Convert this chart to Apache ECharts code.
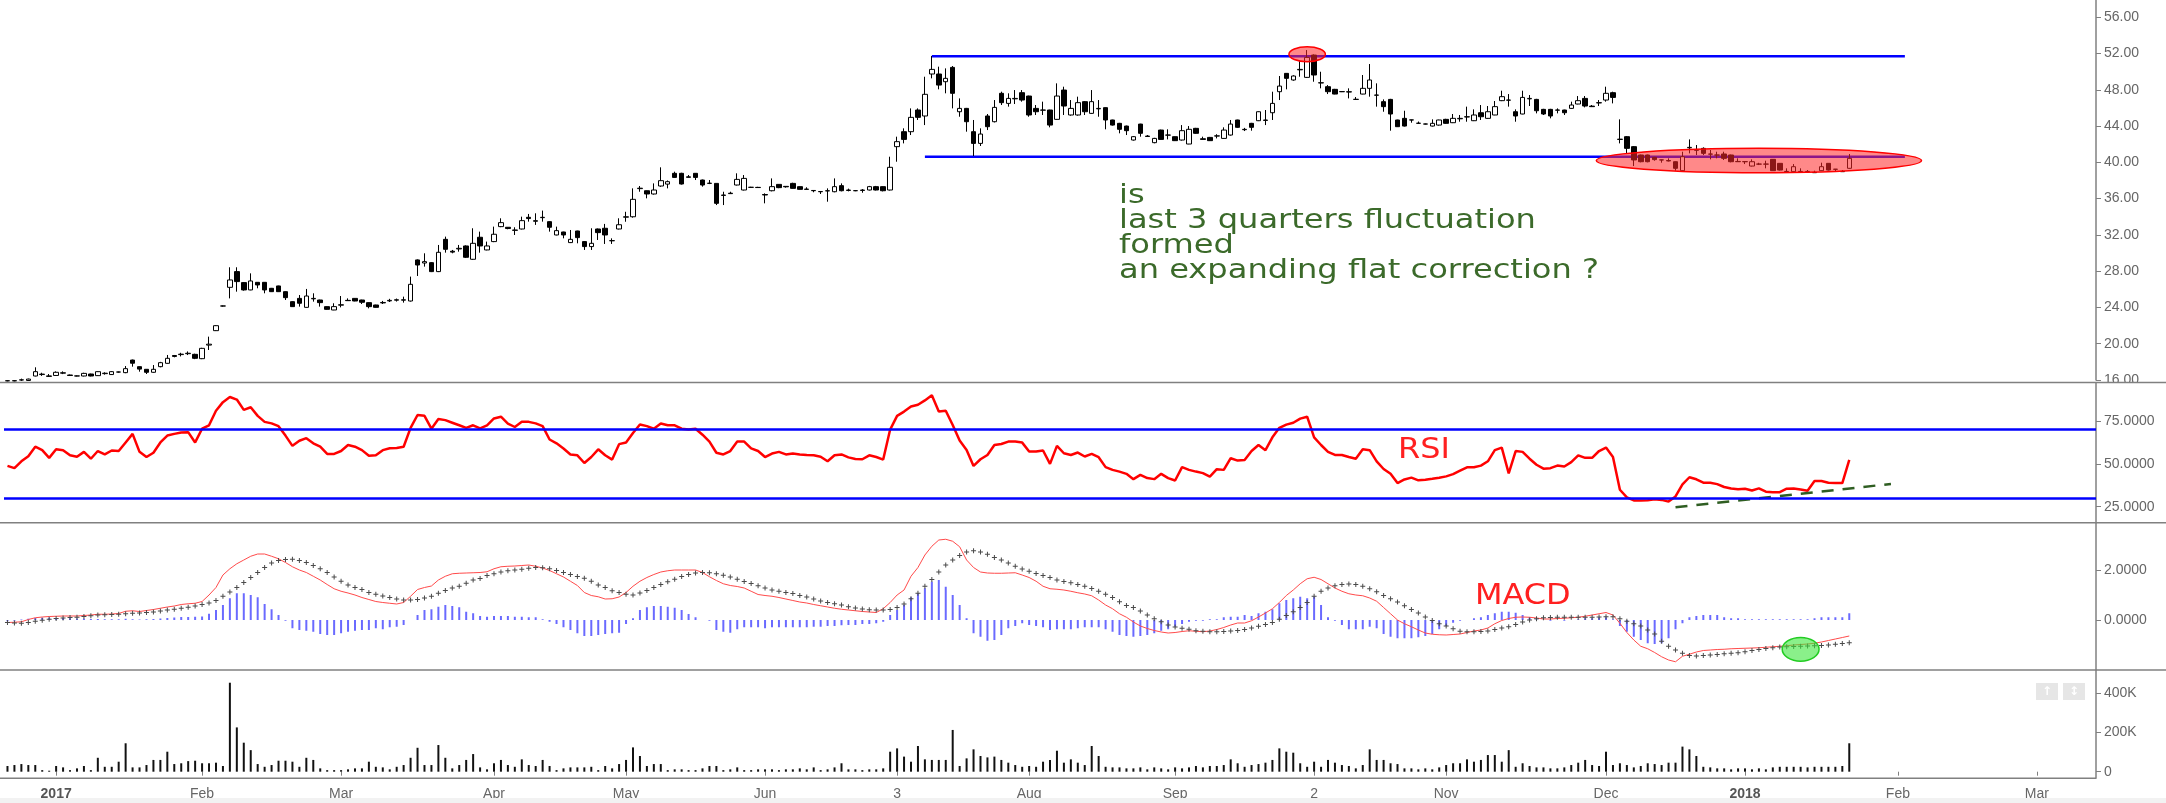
<!DOCTYPE html>
<html><head><meta charset="utf-8">
<script src="https://cdn.jsdelivr.net/npm/echarts@6/dist/echarts.min.js"></script>
<style>html,body{margin:0;padding:0;background:#fff;}#c{width:2166px;height:803px;}</style>
</head><body><div id="c"></div>
<script>
// ---------- DATA ----------
// daily candles: [open, close, low, high]
const ohlc = [
[15.9,15.92,15.85,15.97],[15.92,15.9,15.85,15.97],[16.0,16.02,15.9,16.15],[15.95,16.1,15.9,16.15],[16.44,16.92,16.4,17.4],
[16.6,16.65,16.45,16.8],[16.45,16.4,16.35,16.66],[16.5,16.85,16.45,16.95],[16.75,16.8,16.65,16.95],[16.55,16.5,16.45,16.6],
[16.45,16.44,16.4,16.5],[16.44,16.73,16.4,16.8],[16.66,16.44,16.4,16.7],[16.48,16.92,16.45,16.95],[16.7,16.75,16.59,16.85],
[16.6,16.92,16.55,16.98],[16.88,16.88,16.82,16.92],[16.81,17.25,16.75,17.54],[18.2,17.85,17.47,18.25],[17.47,17.2,16.92,17.5],
[17.18,16.85,16.66,17.2],[16.85,17.18,16.8,17.65],[17.47,17.91,17.4,18.0],[17.84,18.39,17.8,18.76],[18.7,18.6,18.5,18.76],
[18.8,18.85,18.6,19.0],[18.9,18.95,18.75,19.15],[18.83,18.39,18.3,18.9],[18.35,19.49,18.3,19.55],[19.85,19.95,19.31,20.78],
[21.44,21.99,21.4,22.05],[24.16,24.16,24.1,24.2],[26.22,27.03,25.0,28.43],[27.95,26.85,25.74,28.43],[26.74,25.93,25.85,26.8],
[25.93,26.92,25.9,27.76],[26.77,26.48,26.11,26.8],[26.77,25.93,25.56,26.8],[26.11,25.74,25.7,26.15],[26.37,25.74,25.7,26.4],
[25.74,25.08,24.82,25.78],[24.64,24.09,24.05,24.68],[25.0,24.46,24.09,25.37],[24.01,25.26,23.98,26.04],[24.95,25.0,24.64,25.56],
[24.82,24.53,24.09,24.85],[24.09,23.79,23.75,24.12],[23.72,24.09,23.7,24.46],[24.25,24.3,24.01,25.26],[24.78,24.75,24.72,25.0],
[25.0,24.71,24.68,25.03],[24.82,24.57,24.38,24.85],[24.53,24.09,23.9,24.56],[24.27,24.01,23.98,24.3],[24.5,24.55,24.38,24.72],
[24.72,24.78,24.6,24.95],[24.8,24.85,24.65,24.98],[24.8,24.85,24.53,25.19],[24.71,26.55,24.65,27.4],[29.24,28.68,27.47,29.3],
[28.9,29.05,28.5,29.97],[28.94,27.95,27.9,29.0],[27.95,30.08,27.9,30.89],[31.51,30.41,30.04,31.81],[30.2,30.1,29.97,30.34],
[30.45,30.52,30.15,30.89],[30.78,29.53,29.45,30.85],[29.31,31.07,29.25,32.73],[31.74,30.78,30.04,32.36],[30.34,30.78,30.3,31.26],
[31.26,32.07,31.2,32.91],[32.91,33.35,32.85,33.83],[32.84,32.7,32.62,32.86],[32.5,32.54,31.99,32.84],[32.65,33.57,32.6,34.01],
[33.94,33.8,33.46,34.31],[33.5,33.57,33.1,34.38],[33.9,33.94,33.46,34.68],[33.46,32.84,32.36,33.5],[31.99,32.47,31.95,32.91],
[32.32,31.99,31.62,32.35],[31.15,31.51,31.1,32.54],[32.43,31.7,31.07,32.46],[31.26,30.71,30.34,31.3],[30.71,31.07,30.34,32.73],
[32.65,32.25,31.44,32.7],[32.73,31.99,31.0,33.21],[31.35,31.37,31.0,31.62],[32.65,33.12,32.6,33.83],[33.95,34.0,33.45,34.55],
[34.0,35.92,33.9,37.13],[37.1,37.15,36.76,37.39],[36.87,36.51,36.03,36.9],[36.51,36.95,36.45,37.68],[37.39,37.98,37.3,39.45],
[37.6,37.87,37.13,38.0],[38.79,38.34,38.3,38.97],[38.79,37.61,37.55,38.85],[38.4,38.35,38.34,38.6],[38.79,38.34,38.05,38.82],
[38.05,37.5,37.32,38.1],[37.7,37.68,37.6,38.05],[37.68,35.48,35.29,37.7],[36.35,36.4,35.29,36.76],[36.6,36.55,36.51,36.76],
[37.5,38.12,37.45,38.79],[36.95,38.23,36.9,38.6],[37.25,37.24,37.2,37.3],[37.24,37.22,37.18,37.3],[36.45,36.4,35.48,36.58],
[36.87,37.32,36.8,38.23],[37.57,37.21,37.15,37.6],[37.35,37.3,37.21,37.39],[37.68,37.13,37.1,37.75],[37.32,37.02,37.0,37.35],
[37.05,37.02,37.0,37.25],[36.9,36.87,36.7,36.92],[36.78,36.76,36.51,36.8],[36.85,36.87,35.66,37.13],[36.76,37.32,36.7,38.23],
[37.43,36.87,36.8,37.68],[36.9,36.95,36.8,37.1],[36.88,36.87,36.82,36.92],[36.9,36.95,36.65,37.05],[36.95,37.32,36.9,37.4],
[37.32,36.95,36.9,37.4],[37.32,36.87,36.8,37.35],[36.95,39.45,36.9,40.62],[41.73,42.28,40.07,42.83],[43.38,42.53,42.09,43.75],
[43.38,44.96,43.01,45.95],[45.77,44.96,44.67,45.95],[45.11,47.5,44.11,49.44],[49.74,50.25,49.26,51.72],[49.74,48.52,48.05,50.55],
[48.89,49.26,47.61,50.36],[50.47,47.61,45.95,50.62],[45.58,45.95,45.03,47.05],[45.95,44.48,43.38,46.0],[43.38,42.09,40.7,44.67],
[42.09,43.12,41.8,43.75],[45.11,43.93,43.56,45.33],[44.48,46.06,44.4,46.87],[47.61,46.58,46.32,47.79],[46.5,47.05,46.14,47.61],
[47.0,47.05,46.43,47.97],[47.68,46.87,46.69,47.97],[47.31,45.22,45.03,47.35],[45.95,45.58,45.22,46.32],[45.75,45.77,45.22,46.69],
[45.77,44.11,43.86,45.8],[44.74,47.31,44.7,48.71],[47.97,46.21,45.22,48.34],[45.22,45.95,45.15,46.87],[45.22,46.58,45.15,47.24],
[46.69,45.58,45.22,46.75],[45.4,46.69,45.35,47.97],[45.9,45.95,45.03,46.87],[46.03,44.67,43.64,46.06],[44.67,44.11,44.05,44.7],
[44.3,43.64,43.2,44.35],[44.0,43.49,43.01,44.05],[42.46,42.83,42.4,42.9],[44.22,43.2,42.83,44.25],[42.9,42.85,42.83,43.01],
[42.17,42.64,42.1,42.7],[43.56,42.53,42.5,43.6],[43.0,43.01,42.53,43.64],[42.83,42.39,42.35,42.85],[42.46,43.49,42.4,44.11],
[42.02,43.64,42.0,44.0],[43.75,43.2,43.15,43.8],[42.6,42.53,42.5,42.83],[42.75,42.39,42.35,42.8],[42.9,42.92,42.64,43.1],
[42.64,43.56,42.6,43.86],[43.01,44.22,42.95,44.67],[44.67,43.86,43.8,44.7],[43.6,43.64,43.45,43.8],[44.3,43.86,43.49,44.35],
[44.59,45.58,44.55,45.62],[44.62,44.67,44.11,45.77],[45.47,46.5,44.67,47.79],[47.79,48.41,46.87,49.52],[49.81,49.26,48.05,49.85],
[49.08,49.52,49.0,49.6],[50.2,50.25,49.44,51.28],[49.37,51.57,49.3,52.38],[51.83,49.63,48.89,51.9],[48.75,48.78,48.16,49.99],
[48.34,47.79,47.53,48.52],[48.05,47.53,47.5,48.1],[47.8,47.79,47.75,47.85],[47.75,47.79,47.05,48.16],[46.95,46.94,46.9,47.2],
[47.53,48.16,47.5,49.63],[48.16,49.08,47.24,50.84],[47.4,47.42,46.14,48.71],[46.69,46.14,45.58,46.94],[46.94,45.33,43.49,47.0],
[44.67,43.93,43.9,44.7],[44.85,44.0,43.95,45.69],[44.68,44.67,44.37,44.7],[44.32,44.3,44.28,44.5],[44.23,44.22,44.18,44.27],
[44.0,44.3,43.95,44.74],[44.11,44.67,44.05,44.7],[44.74,44.3,44.25,44.8],[44.37,44.85,44.33,45.33],[44.8,44.85,44.48,45.22],
[45.0,45.03,44.48,46.14],[44.59,45.22,44.55,45.84],[45.47,45.03,44.67,46.32],[44.85,45.58,44.8,46.21],[45.22,46.14,45.2,46.76],
[46.8,47.24,46.75,47.9],[46.85,46.87,46.14,47.53],[45.58,45.11,44.48,45.84],[45.33,47.16,45.3,47.9],[47.0,47.05,46.21,47.42],
[46.94,45.69,45.4,47.0],[45.84,45.33,45.22,45.9],[45.84,45.11,44.85,45.9],[45.75,45.77,45.4,45.95],[45.77,45.47,45.22,45.8],
[45.95,46.32,45.9,46.69],[46.43,46.8,46.4,47.31],[47.05,46.21,46.06,47.31],[46.2,46.14,46.1,46.32],[46.55,46.58,46.21,46.87],
[46.87,47.61,46.69,48.34],[47.68,47.16,46.5,47.79],[42.55,42.53,42.09,44.74],[42.83,41.54,40.99,42.9],[41.73,40.26,39.59,41.8],
[40.81,40.07,40.0,40.85],[40.81,40.07,40.0,40.85],[40.55,40.3,40.18,40.6],[40.27,40.26,39.96,40.3],[40.2,40.15,40.1,40.44],
[40.07,39.34,39.08,40.1],[39.08,40.62,39.0,41.17],[41.6,41.65,40.99,42.53],[41.33,41.36,40.81,41.91],[41.54,40.99,40.81,41.65],
[40.9,40.92,40.33,41.36],[40.8,40.81,40.44,41.17],[40.92,40.44,40.26,41.17],[40.81,40.07,40.0,40.85],[40.1,40.07,40.05,40.44],
[40.08,40.07,39.81,40.1],[39.59,40.07,39.55,40.33],[39.8,39.81,39.7,39.95],[39.8,39.81,39.34,40.18],[40.33,39.08,39.05,40.36],
[39.89,39.15,39.1,39.92],[39.0,38.97,38.95,39.34],[38.97,39.52,38.95,39.81],[39.0,38.97,38.95,39.34],[39.0,38.97,38.95,39.15],
[38.9,38.86,38.84,39.08],[39.08,39.52,39.05,39.96],[39.89,39.15,39.1,39.92],[39.25,39.23,38.97,39.26],[39.0,38.97,38.95,39.15],
[39.34,40.44,39.3,40.92]
];
// volume in thousands
const volumeK = [
29,34,39,34,34,8,5,29,22,8, 17,29,8,71,25,25,51,145,22,22, 34,60,60,102,39,43,54,56,43,43,
46,29,454,226,148,110,39,25,34,56, 56,51,25,71,60,17,8,8,8,12, 17,17,51,25,22,12,25,34,71,122,
34,34,136,71,17,34,60,90,22,12, 43,60,34,25,63,34,29,60,29,8, 17,22,22,22,25,8,29,17,39,
60,124,80,29,39,39,8,12,12,8, 8,17,29,29,8,12,22,8,8,12, 12,12,8,12,12,17,12,22,8,12,
22,43,12,12,8,12,12,17,102,119, 77,51,131,63,60,60,60,213,29,68, 114,80,73,77,60,46,34,25,29,25,
51,60,107,46,63,46,34,131,80,25, 22,22,17,17,22,12,22,17,12,22, 17,22,29,22,29,29,34,63,43,
25,34,39,46,60,119,102,97,43,25, 51,25,60,46,34,29,17,34,114,60, 60,43,39,17,17,12,17,12,22,34,
43,43,63,51,60,85,85,51,110,25, 43,29,22,22,17,17,22,34,46,60, 34,29,102,34,43,34,22,29,43,39,
34,46,46,128,114,80,25,22,17,17, 12,17,17,12,17,12,22,25,25,25, 25,22,25,25,25,25,29,145
];
const rsi = [
48.8,47.5,51.5,54.5,60.0,58.0,53.5,58.5,58.0,55.0, 54.2,57.0,53.0,57.5,55.5,57.8,57.5,62.5,67.5,57.0,
54.0,56.5,62.5,66.5,67.5,68.3,68.5,62.5,70.5,72.5, 81.0,86.0,89.0,87.5,81.5,83.0,78.0,74.5,73.6,72.0,
66.5,60.5,63.5,65.0,62.0,60.0,55.8,55.8,57.5,61.0, 60.0,58.0,54.7,55.0,58.0,59.1,59.3,60.0,71.0,78.5,
78.0,70.5,76.2,75.5,74.0,72.5,71.0,72.5,70.7,72.5, 76.5,77.5,73.5,71.5,74.5,74.5,73.6,72.0,64.2,62.0,
59.0,55.5,55.0,50.5,54.0,58.5,55.0,52.5,61.5,
62.5,68.0,73.0,72.0,70.5,73.5,72.5,72.5,70.5,70.0, 70.5,67.0,63.0,56.5,55.5,57.5,63.0,63.0,59.0,57.5,
54.0,56.0,57.0,55.5,56.0,55.5,55.2,55.0,54.2,51.5, 55.0,55.5,53.8,52.8,52.7,55.0,54.0,52.5,70.0,78.0,
80.5,83.5,84.5,87.0,90.0,80.5,81.0,72.7,63.6,58.1, 48.8,52.7,55.2,61.0,61.6,63.0,63.0,62.4,57.2,57.2,
57.8,50.0,60.5,56.2,55.2,56.6,54.3,55.8,53.9,48.1, 46.5,45.5,44.2,41.1,43.6,41.7,41.1,44.2,41.7,40.3,
48.1,46.5,45.5,44.6,42.6,46.9,46.5,53.3,51.9,
52.3,57.5,61.0,58.0,65.5,71.0,72.9,74.0,76.4,77.5, 65.5,61.0,57.0,55.2,55.2,54.0,53.0,58.5,58.0,51.5,
47.0,44.2,38.8,40.9,42.0,40.4,40.8,41.3,41.9,42.7, 44.0,46.0,48.0,48.0,49.0,51.5,58.0,59.5,44.5,57.5,
57.0,53.0,49.5,47.2,47.5,49.0,48.5,51.0,55.0,53.5, 53.5,57.5,59.5,54.0,34.9,30.5,28.7,28.6,28.8,29.3,
29.0,28.0,31.0,38.0,42.2,41.0,39.0,39.0,38.2,36.5, 35.6,35.2,35.5,34.5,35.7,33.8,33.5,33.5,35.5,35.6,
35.0,34.3,40.0,40.0,39.0,38.8,38.8,52.3
];
const macd = [
-0.10,-0.09,-0.07,0.02,0.09,0.12,0.14,0.15,0.16,0.16, 0.16,0.18,0.20,0.23,0.23,0.24,0.26,0.35,0.37,0.34,
0.38,0.42,0.47,0.52,0.56,0.62,0.65,0.67,0.74,1.0, 1.3,1.8,2.05,2.25,2.4,2.55,2.64,2.64,2.55,2.45,
2.3,2.13,2.0,1.9,1.75,1.6,1.42,1.25,1.15,1.08, 1.0,0.9,0.82,0.74,0.7,0.67,0.64,0.7,0.95,1.22,
1.3,1.36,1.6,1.75,1.85,1.87,1.88,1.89,1.9,1.93, 2.05,2.13,2.15,2.16,2.18,2.2,2.15,2.08,1.98,1.85,
1.72,1.55,1.38,1.1,0.98,0.93,0.84,0.85,0.92,
1.1,1.35,1.55,1.7,1.82,1.92,1.97,2.0,2.0,2.0, 2.0,1.9,1.73,1.58,1.45,1.38,1.34,1.28,1.15,1.02,
0.98,0.95,0.9,0.84,0.78,0.72,0.68,0.62,0.57,0.52, 0.47,0.43,0.4,0.37,0.34,0.32,0.3,0.45,0.7,1.0,
1.2,1.75,2.1,2.6,2.95,3.2,3.23,3.15,2.93,2.4, 2.1,1.92,1.88,1.87,1.87,1.88,1.89,1.8,1.7,1.55,
1.35,1.25,1.23,1.2,1.15,1.09,1.04,0.97,0.8,0.6, 0.45,0.25,0.11,-0.08,-0.24,-0.34,-0.42,-0.48,-0.52,-0.5,
-0.46,-0.43,-0.45,-0.47,-0.44,-0.38,-0.3,-0.2,-0.12,
-0.12,-0.03,0.12,0.28,0.45,0.7,0.98,1.2,1.45,1.65, 1.71,1.62,1.45,1.28,1.15,1.05,1.0,0.97,0.88,0.75,
0.5,0.25,0.0,-0.15,-0.27,-0.4,-0.52,-0.57,-0.59,-0.6, -0.58,-0.56,-0.5,-0.44,-0.4,-0.32,-0.15,-0.02,0.06,0.11,
0.12,0.11,0.08,0.04,0.04,0.06,0.07,0.09,0.11,0.15, 0.2,0.25,0.3,0.2,-0.13,-0.5,-0.8,-1.05,-1.15,-1.3,
-1.47,-1.6,-1.67,-1.45,-1.37,-1.28,-1.22,-1.2,-1.18,-1.17, -1.15,-1.14,-1.13,-1.12,-1.11,-1.09,-1.07,-1.05,-1.03,-1.0,
-0.98,-0.96,-0.93,-0.88,-0.82,-0.76,-0.7,-0.64
];
const signal = [
-0.10,-0.12,-0.13,-0.10,-0.05,-0.01,0.03,0.06,0.08,0.10, 0.11,0.14,0.17,0.20,0.21,0.22,0.23,0.25,0.27,0.28,
0.30,0.32,0.36,0.40,0.43,0.47,0.51,0.56,0.62,0.68, 0.78,0.95,1.12,1.3,1.5,1.7,1.9,2.1,2.28,2.38,
2.42,2.43,2.38,2.3,2.18,2.05,1.9,1.72,1.55,1.4, 1.3,1.22,1.1,1.03,0.96,0.9,0.84,0.8,0.8,0.82,
0.88,0.95,1.07,1.18,1.28,1.35,1.47,1.6,1.66,1.78, 1.85,1.92,1.97,2.0,2.03,2.07,2.1,2.09,2.05,1.98,
1.9,1.82,1.74,1.67,1.55,1.4,1.3,1.17,1.1,
1.03,1.0,1.08,1.18,1.3,1.42,1.53,1.63,1.74,1.82, 1.88,1.9,1.89,1.85,1.79,1.72,1.63,1.54,1.46,1.37,
1.28,1.2,1.15,1.1,1.06,0.98,0.92,0.84,0.76,0.7, 0.65,0.6,0.53,0.48,0.44,0.41,0.4,0.4,0.42,0.5,
0.64,0.85,1.07,1.35,1.62,1.92,2.2,2.4,2.58,2.72, 2.77,2.72,2.63,2.5,2.4,2.28,2.15,2.04,1.95,1.86,
1.78,1.7,1.6,1.54,1.49,1.42,1.35,1.26,1.15,1.03, 0.9,0.73,0.58,0.5,0.36,0.2,0.05,-0.07,-0.2,-0.28,
-0.33,-0.37,-0.43,-0.45,-0.47,-0.47,-0.46,-0.44,-0.42,
-0.38,-0.32,-0.25,-0.18,-0.1,0.03,0.18,0.33,0.5,0.7, 0.95,1.15,1.28,1.37,1.42,1.44,1.42,1.35,1.25,1.13,
0.98,0.85,0.72,0.57,0.42,0.28,0.12,-0.02,-0.15,-0.24, -0.35,-0.45,-0.47,-0.47,-0.46,-0.44,-0.38,-0.32,-0.27,-0.18,
-0.08,0.0,0.05,0.09,0.1,0.11,0.11,0.11,0.11,0.11, 0.11,0.12,0.13,0.13,0.05,-0.05,-0.15,-0.24,-0.4,-0.56,
-0.85,-1.05,-1.2,-1.33,-1.42,-1.44,-1.42,-1.4,-1.38,-1.35, -1.33,-1.31,-1.27,-1.22,-1.18,-1.14,-1.11,-1.08,-1.07,-1.06,
-1.05,-1.04,-1.03,-1.02,-1.0,-0.97,-0.94,-0.91
];
const hist = [
-0.05,-0.03,0.02,0.05,0.08,0.09,0.09,0.08,0.08,0.07, 0.06,0.05,0.04,0.04,0.03,0.03,0.03,0.05,0.03,0.02,
0.03,0.04,0.06,0.08,0.1,0.12,0.12,0.13,0.14,0.25, 0.4,0.6,0.87,1.07,1.07,1.0,0.91,0.64,0.43,0.2,
-0.03,-0.33,-0.4,-0.43,-0.47,-0.56,-0.6,-0.6,-0.53,-0.47, -0.43,-0.4,-0.4,-0.33,-0.37,-0.29,-0.27,-0.2,0.0,0.2,
0.4,0.43,0.53,0.6,0.56,0.51,0.33,0.27,0.16,0.13, 0.16,0.16,0.16,0.13,0.13,0.11,0.11,0.03,-0.07,-0.16,
-0.29,-0.4,-0.53,-0.64,-0.64,-0.6,-0.56,-0.53,-0.51,
-0.16,0.07,0.4,0.51,0.56,0.56,0.53,0.49,0.4,0.24, 0.11,0.0,-0.03,-0.4,-0.47,-0.51,-0.37,-0.29,-0.29,-0.29,
-0.33,-0.29,-0.29,-0.29,-0.29,-0.29,-0.29,-0.27,-0.27,-0.24, -0.24,-0.21,-0.2,-0.2,-0.16,-0.16,-0.13,-0.07,0.2,0.4,
0.6,0.91,1.07,1.27,1.53,1.6,1.33,1.0,0.6,0.07, -0.53,-0.67,-0.83,-0.8,-0.6,-0.33,-0.24,-0.13,-0.2,-0.24,
-0.29,-0.4,-0.37,-0.37,-0.37,-0.33,-0.29,-0.29,-0.29,-0.37, -0.47,-0.6,-0.64,-0.67,-0.64,-0.6,-0.53,-0.43,-0.37,-0.27,
-0.16,-0.07,-0.03,-0.03,0.03,0.03,0.11,0.13,0.13,
0.2,0.16,0.27,0.33,0.43,0.67,0.8,0.87,0.93,0.87, 0.93,0.6,0.11,-0.03,-0.2,-0.37,-0.37,-0.37,-0.27,-0.33,
-0.56,-0.67,-0.73,-0.73,-0.73,-0.69,-0.64,-0.56,-0.37,-0.24, -0.11,-0.03,0.0,0.07,0.11,0.2,0.27,0.33,0.33,0.29,
0.2,0.11,0.03,0.0,-0.03,0.0,-0.03,0.0,0.03,0.07, 0.07,0.11,0.11,0.03,-0.24,-0.47,-0.67,-0.8,-0.93,-0.96,
-0.93,-0.73,-0.37,-0.13,0.11,0.16,0.2,0.2,0.2,0.11, 0.07,0.07,0.03,0.03,0.03,0.03,0.03,0.03,0.03,0.03,
0.03,0.03,0.07,0.11,0.11,0.11,0.11,0.27
];
// x-axis: bar slot where each month label sits, and its text
const tickIndex  = [7, 28, 48, 70, 89, 109, 128, 147, 168, 188, 207, 230, 250, 272, 292];
const tickLabels = ['2017','Feb','Mar','Apr','May','Jun','3','Aug','Sep','2','Nov','Dec','2018','Feb','Mar'];
const priceTicks = [16,20,24,28,32,36,40,44,48,52,56];
const rsiTicks = [25, 50, 75];
const macdTicks = [0, 2];
const volTicksK = [0, 200, 400];
// annotations (bar index, value)
const topLine = [[133, 51.7], [273, 51.7]];
const lowLine = [[132, 40.62], [273, 40.62]];
const rsiTrend = [[240, 24.7], [271, 38.3]];
// ellipses: [centerBar, centerValue, widthInBars, heightInValue]
const priceEllipses = [[187.2, 51.92, 5.24, 1.65], [251.8, 40.2, 46.8, 2.69]];
const macdEllipses = [[258.2, -1.17, 5.3, 0.95]];

// ---------- CHART ----------
const SLOTS = 301;
const categories = Array.from({length: SLOTS}, (_, i) => String(i));
const labelAt = {};
tickIndex.forEach((t, i) => { labelAt[t] = tickLabels[i]; });

const AX = '#808080';
const LBL = '#666';
const FONT = 'Liberation Sans, Arial, sans-serif';

function xAxisFor(i) {
  const show = i === 3;
  return {
    type: 'category', gridIndex: i, data: categories, boundaryGap: true,
    axisLine: {show: false},
    axisTick: {show: show, alignWithLabel: true, length: 4, lineStyle: {color: AX},
      interval: (idx) => labelAt[idx] !== undefined},
    axisLabel: {show: show, margin: 9, fontSize: 14, fontFamily: FONT, color: LBL,
      interval: (idx) => labelAt[idx] !== undefined,
      formatter: (v) => {
        const s = labelAt[+v] || '';
        return /^\d{4}$/.test(s) ? '{b|' + s + '}' : s;
      },
      rich: {b: {fontWeight: 'bold', fontSize: 14, fontFamily: FONT, color: '#555'}}},
    splitLine: {show: false}
  };
}
function yAxisFor(i, min, max, ticks, fmt) {
  return {
    type: 'value', gridIndex: i, position: 'right', min: min, max: max,
    axisLine: {show: true, lineStyle: {color: AX, width: 1.5}},
    axisTick: {show: true, length: 5, lineStyle: {color: AX}, customValues: ticks},
    axisLabel: {show: true, margin: 8, fontSize: 14, fontFamily: FONT, color: LBL,
      customValues: ticks, formatter: fmt},
    splitLine: {show: false}
  };
}

function ellipseRender(fill, stroke) {
  return function (params, api) {
    const c = api.coord([api.value(0), api.value(1)]);
    const bw = api.size([1, 0])[0];
    const hh = api.size([0, api.value(3)])[1];
    return {
      type: 'ellipse',
      shape: {cx: c[0], cy: c[1], rx: api.value(2) * bw / 2, ry: hh / 2},
      style: {fill: fill, stroke: stroke, lineWidth: 1.5}
    };
  };
}

const chart = echarts.init(document.getElementById('c'), null, {width: 2166, height: 803});
const L = 4, R = 70;
const option = {
  animation: false,
  backgroundColor: '#ffffff',
  grid: [
    {left: L, right: R, top: 0, height: 380},
    {left: L, right: R, top: 382.7, height: 140},
    {left: L, right: R, top: 522.7, height: 147.3},
    {left: L, right: R, top: 670, height: 108.3}
  ],
  xAxis: [xAxisFor(0), xAxisFor(1), xAxisFor(2), xAxisFor(3)],
  yAxis: [
    yAxisFor(0, 16, 57.9, priceTicks, (v) => v.toFixed(2)),
    yAxisFor(1, 15.7, 97.33, rsiTicks, (v) => v.toFixed(4)),
    yAxisFor(2, -2.0, 3.892, macdTicks, (v) => v.toFixed(4)),
    yAxisFor(3, -33.7, 518.9, volTicksK, (v) => v === 0 ? '0' : v + 'K')
  ],
  series: [
    {type: 'line', xAxisIndex: 0, yAxisIndex: 0, data: topLine, symbol: 'none', z: 2,
      lineStyle: {color: '#0000ff', width: 2.5}},
    {type: 'line', xAxisIndex: 0, yAxisIndex: 0, data: lowLine, symbol: 'none', z: 2,
      lineStyle: {color: '#0000ff', width: 2.5}},
    {type: 'candlestick', xAxisIndex: 0, yAxisIndex: 0, data: ohlc, barWidth: 5, z: 3, clip: false,
      itemStyle: {color: '#ffffff', color0: '#000000', borderColor: '#000000', borderColor0: '#000000', borderWidth: 1}},
    {type: 'custom', xAxisIndex: 0, yAxisIndex: 0, data: priceEllipses, z: 5,
      encode: {x: 0, y: 1}, renderItem: ellipseRender('rgba(255,40,40,0.55)', '#ff0000')},
    {type: 'line', xAxisIndex: 1, yAxisIndex: 1, data: rsi, symbol: 'none', z: 3,
      lineStyle: {color: '#ff0000', width: 2.5},
      markLine: {silent: true, symbol: 'none', label: {show: false},
        lineStyle: {color: '#0000ff', width: 2.5, type: 'solid'},
        data: [{yAxis: 70}, {yAxis: 30}]}},
    {type: 'line', xAxisIndex: 1, yAxisIndex: 1, data: rsiTrend, symbol: 'none', z: 4,
      lineStyle: {color: '#2f5e22', width: 2.5, type: [12, 9]}},
    {type: 'bar', xAxisIndex: 2, yAxisIndex: 2, data: hist, barWidth: 2, z: 2,
      itemStyle: {color: '#6a6aff'}},
    {type: 'line', xAxisIndex: 2, yAxisIndex: 2, data: macd, symbol: 'none', z: 3,
      lineStyle: {color: '#ff4a4a', width: 1}},
    {type: 'line', xAxisIndex: 2, yAxisIndex: 2, data: signal, z: 3, showAllSymbol: true,
      symbol: 'path://M2,0H3V2H5V3H3V5H2V3H0V2H2Z', symbolSize: 5,
      itemStyle: {color: '#4a4a4a'}, lineStyle: {opacity: 0}},
    {type: 'custom', xAxisIndex: 2, yAxisIndex: 2, data: macdEllipses, z: 5,
      encode: {x: 0, y: 1}, renderItem: ellipseRender('rgba(60,230,60,0.6)', '#22cc22')},
    {type: 'bar', xAxisIndex: 3, yAxisIndex: 3, data: volumeK, barWidth: 2,
      itemStyle: {color: '#111111'}}
  ],
  graphic: [
    {type: 'rect', shape: {x: 2097, y: 383, width: 69, height: 9}, style: {fill: '#fff'}, z: 100},
    {type: 'line', shape: {x1: 0, y1: 382.5, x2: 2166, y2: 382.5}, style: {stroke: AX, lineWidth: 1.5}, z: 101},
    {type: 'line', shape: {x1: 0, y1: 522.7, x2: 2166, y2: 522.7}, style: {stroke: AX, lineWidth: 1.5}, z: 101},
    {type: 'line', shape: {x1: 0, y1: 670, x2: 2166, y2: 670}, style: {stroke: AX, lineWidth: 1.5}, z: 101},
    {type: 'line', shape: {x1: 0, y1: 778.3, x2: 2096, y2: 778.3}, style: {stroke: AX, lineWidth: 1.5}, z: 101},
    {type: 'rect', shape: {x: 0, y: 798, width: 2166, height: 5}, style: {fill: '#f2f2f2'}, z: 1},
    {type: 'text', x: 1119, y: 184, scaleX: 1.234, z: 110,
      style: {text: 'is\nlast 3 quarters fluctuation\nformed\nan expanding flat correction ?',
        font: '26px "DejaVu Sans"', fill: '#3b6a2a', lineHeight: 25, verticalAlign: 'top'}},
    {type: 'text', x: 1398, y: 451, scaleX: 1.14, z: 110,
      style: {text: 'RSI', font: '28px "DejaVu Sans"', fill: '#ff2020', verticalAlign: 'middle'}},
    {type: 'text', x: 1475, y: 597, scaleX: 1.14, z: 110,
      style: {text: 'MACD', font: '28px "DejaVu Sans"', fill: '#ff2020', verticalAlign: 'middle'}},
    {type: 'rect', shape: {x: 2036, y: 683, width: 22, height: 17}, style: {fill: '#e6e6e6'}, z: 110},
    {type: 'rect', shape: {x: 2063, y: 683, width: 22, height: 17}, style: {fill: '#e6e6e6'}, z: 110},
    {type: 'text', x: 2047, y: 691.5, z: 111, style: {text: '↑', font: 'bold 12px "DejaVu Sans"', fill: '#fff', align: 'center', verticalAlign: 'middle'}},
    {type: 'text', x: 2074, y: 691.5, z: 111, style: {text: '↕', font: 'bold 12px "DejaVu Sans"', fill: '#fff', align: 'center', verticalAlign: 'middle'}}
  ]
};
chart.setOption(option);
</script>
</body></html>
